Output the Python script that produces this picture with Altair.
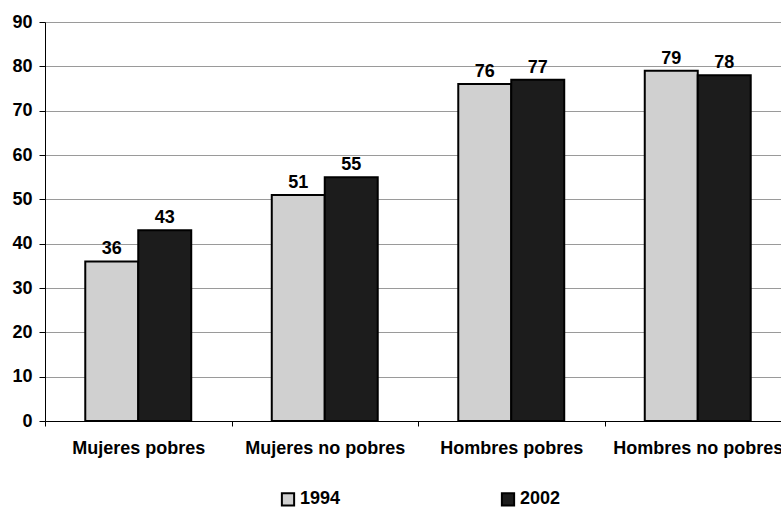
import altair as alt
import pandas as pd

# Grouped bars: share (%) by group, 1994 vs 2002
groups = ["Mujeres pobres", "Mujeres no pobres", "Hombres pobres", "Hombres no pobres"]
years = ["1994", "2002"]
values_1994 = [36, 51, 76, 79]
values_2002 = [43, 55, 77, 78]
year_colors = ["#d0d0d0", "#1c1c1c"]
y_ticks = [0, 10, 20, 30, 40, 50, 60, 70, 80, 90]

rows = []
for g, a, b in zip(groups, values_1994, values_2002):
    rows.append({"grupo": g, "anio": years[0], "valor": a})
    rows.append({"grupo": g, "anio": years[1], "valor": b})
df = pd.DataFrame(rows)

FONT = "Liberation Sans"
FS = 18

x_enc = alt.X(
    "grupo:N",
    sort=groups,
    title=None,
    scale=alt.Scale(paddingInner=0, paddingOuter=0, range=[0, 746]),
    axis=alt.Axis(
        labelAngle=0,
        tickBand="extent",
        tickSize=5,
        tickColor="black",
        domainColor="black",
        labelPadding=13,
        labelFont=FONT,
        labelFontSize=FS,
        labelFontWeight="bold",
        labelColor="black",
        labelLimit=400,
        grid=False,
    ),
)
xoff = alt.XOffset(
    "anio:N",
    sort=years,
    scale=alt.Scale(paddingInner=0, paddingOuter=0.76),
)
y_enc = alt.Y(
    "valor:Q",
    title=None,
    scale=alt.Scale(domain=[0, 90], nice=False),
    axis=alt.Axis(
        values=y_ticks,
        tickSize=6,
        tickColor="black",
        domainColor="black",
        gridColor="#9a9a9a",
        gridWidth=1,
        labelPadding=7,
        labelFont=FONT,
        labelFontSize=FS,
        labelFontWeight="bold",
        labelColor="black",
    ),
)

base = alt.Chart(df)

bars = base.mark_bar(stroke="black", strokeWidth=2).encode(
    x=x_enc,
    xOffset=xoff,
    y=y_enc,
    color=alt.Color(
        "anio:N",
        sort=years,
        scale=alt.Scale(domain=years, range=year_colors),
        legend=alt.Legend(
            title=None,
            orient="none",
            legendX=234,
            legendY=468,
            direction="horizontal",
            columns=2,
            columnPadding=156,
            symbolType="square",
            symbolSize=150,
            symbolStrokeColor="black",
            symbolStrokeWidth=2,
            symbolOpacity=1,
            labelOffset=3,
            labelFont=FONT,
            labelFontSize=FS,
            labelFontWeight="bold",
            labelColor="black",
            padding=0,
        ),
    ),
)

labels = base.mark_text(
    baseline="bottom", dy=-3, font=FONT, fontSize=FS, fontWeight="bold", color="black"
).encode(
    x=alt.X("grupo:N", sort=groups),
    xOffset=alt.XOffset("anio:N", sort=years),
    y="valor:Q",
    text="valor:Q",
)

chart = (
    alt.layer(bars, labels)
    .properties(
        width=736,
        height=399,
        autosize=alt.AutoSizeParams(type="none"),
        padding={"left": 45, "top": 22, "right": 0, "bottom": 87},
        background="white",
    )
    .configure_view(stroke=None)
)

chart.save("out.html", embed_options={"renderer": "svg", "actions": False})
